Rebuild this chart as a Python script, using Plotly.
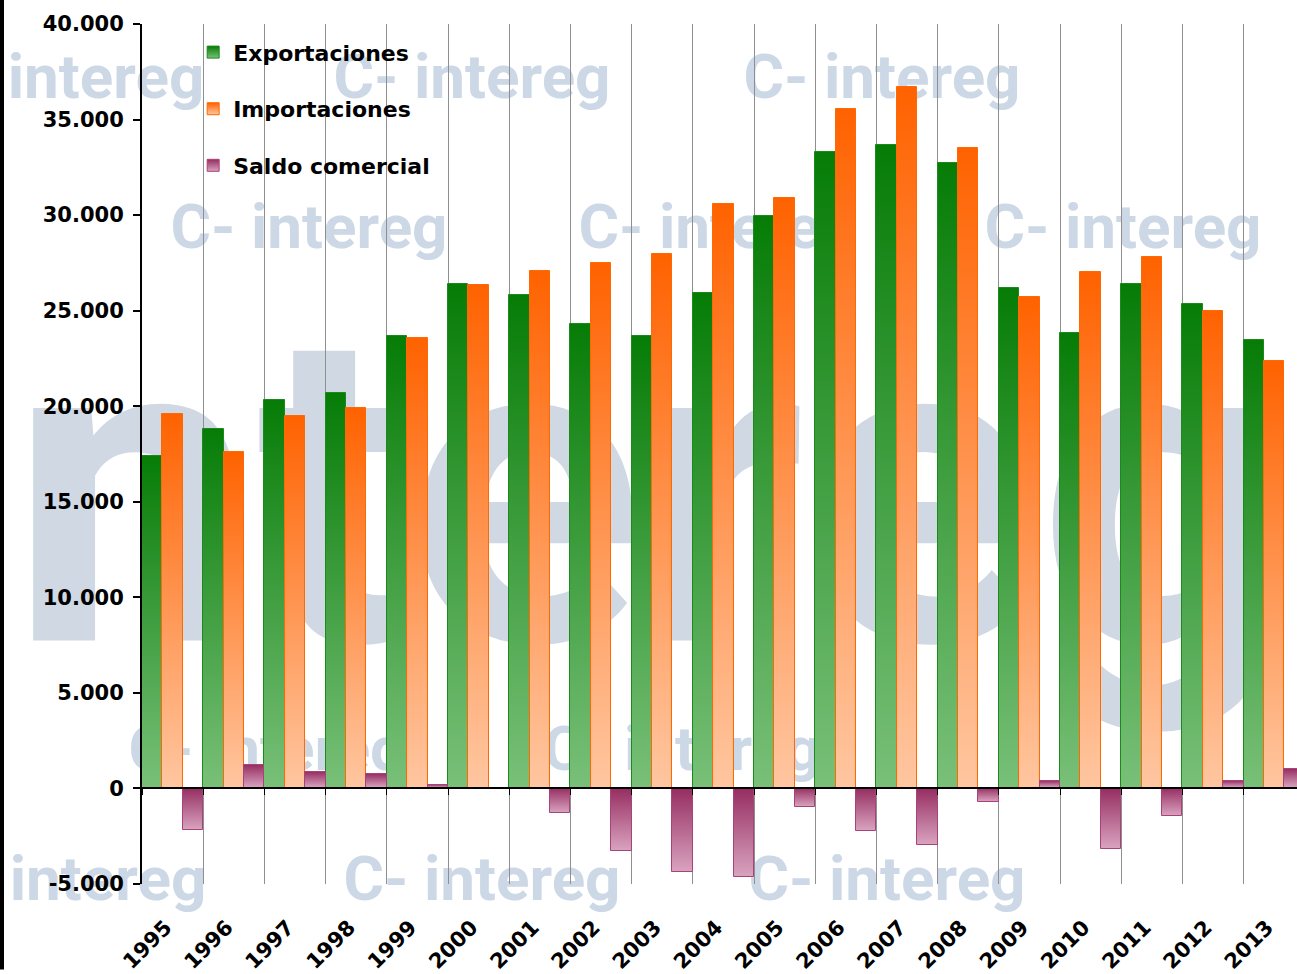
import plotly.graph_objects as go

years = ["1995", "1996", "1997", "1998", "1999", "2000", "2001", "2002", "2003", "2004",
         "2005", "2006", "2007", "2008", "2009", "2010", "2011", "2012", "2013"]
exportaciones = [17410, 18820, 20310, 20680, 23680, 26400, 25820, 24320, 23680, 25920,
                 29960, 33310, 33680, 32740, 26210, 23850, 26380, 25340, 23490]
importaciones = [19580, 17600, 19480, 19930, 23590, 26320, 27050, 27500, 27960, 30590,
                 30890, 35560, 36680, 33490, 25720, 27040, 27790, 24970, 22350]
saldo = [-2160, 1250, 870, 770, 200, 0, -1310, -3260, -4390, -4610,
         -990, -2210, -2940, -720, 380, -3170, -1420, 390, 1030]
series_names = ["Exportaciones", "Importaciones", "Saldo comercial"]
y_tick_values = [-5000, 0, 5000, 10000, 15000, 20000, 25000, 30000, 35000, 40000]
y_tick_labels = ["-5.000", "0", "5.000", "10.000", "15.000", "20.000", "25.000",
                 "30.000", "35.000", "40.000"]

# background watermark: (text, centre x px, centre y px, font size)
watermarks = [
    ("ntereg", 650, 460, 440),
    ("intereg", 106, 73, 62),
    ("C- intereg", 472, 73, 62),
    ("C- intereg", 882, 73, 62),
    ("C- intereg", 309, 223, 62),
    ("C- intereg", 717, 223, 62),
    ("C- intereg", 1123, 223, 62),
    ("C- intereg", 267, 748, 62),
    ("C- intereg", 682, 748, 62),
    ("intereg", 108, 878, 62),
    ("C- intereg", 482, 878, 62),
    ("C- intereg", 887, 878, 62),
]

W, H = 1297, 974
ML, MR, MT, MB = 142, 0, 24, 86
plot_w = W - ML - MR
plot_h = H - MT - MB
cat_w = 61.2
x_span = plot_w / cat_w

font_family = "DejaVu Sans"
wm_family = "Roboto, Liberation Sans, sans-serif"


def px_to_paper(px, py):
    return (px - ML) / plot_w, (H - MB - py) / plot_h


fig = go.Figure()
styles = [
    dict(color="#2e8f2e", line=dict(color="#1a8a1a", width=1)),
    dict(color="#ff8c4a", line=dict(color="#ff6a00", width=1)),
    dict(color="#b5668f", line=dict(color="#a8437a", width=1)),
]
for i, (name, vals) in enumerate(zip(series_names, [exportaciones, importaciones, saldo])):
    fig.add_trace(go.Bar(
        x=years, y=vals, name=name, marker=styles[i],
        legendgroup=name, hoverinfo="x+y+name",
    ))

# helper trace for the zero-level axis (ticks at category boundaries)
fig.add_trace(go.Scatter(
    x=years, y=saldo, xaxis="x2", mode="markers", marker=dict(opacity=0),
    showlegend=False, hoverinfo="skip",
))

shapes = []
for text, cx, cy, size in watermarks:
    x0, y0 = px_to_paper(cx - 20, cy + 20)
    x1, y1 = px_to_paper(cx + 20, cy - 20)
    shapes.append(dict(
        type="rect", xref="paper", yref="paper", x0=x0, x1=x1, y0=y0, y1=y1,
        layer="below", line=dict(width=0), fillcolor="rgba(0,0,0,0)",
        label=dict(text=text, textposition="middle center",
                   font=dict(family=wm_family, size=size,
                             color="#cfd8e3" if size > 100 else "#cdd8e6",
                             weight="bold")),
    ))

fx, _ = px_to_paper(2, 0)
shapes.append(dict(
    type="line", xref="paper", yref="paper", x0=fx, x1=fx,
    y0=-MB / plot_h, y1=1 + MT / plot_h,
    line=dict(color="black", width=4),
))

fig.update_layout(
    width=W, height=H,
    margin=dict(l=ML, r=MR, t=MT, b=MB),
    paper_bgcolor="white", plot_bgcolor="rgba(0,0,0,0)",
    barmode="group", bargap=0, bargroupgap=0,
    font=dict(family=font_family, size=20, color="black", weight="bold"),
    showlegend=True,
    legend=dict(
        x=0.0443, y=0.9915, xanchor="left", yanchor="top",
        bgcolor="rgba(0,0,0,0)", borderwidth=0,
        traceorder="grouped", tracegroupgap=25,
        font=dict(family=font_family, size=22, color="black", weight="bold"),
    ),
    xaxis=dict(
        type="category", range=[-0.5, -0.5 + x_span],
        tickson="boundaries", showgrid=True, gridcolor="#8f8f8f", gridwidth=1,
        ticks="", showline=False, zeroline=False,
        tickangle=-45, ticklabelstandoff=26, ticklabelshift=-7,
        tickfont=dict(family=font_family, size=21, color="black", weight="bold"),
    ),
    xaxis2=dict(
        type="category", overlaying="x", matches="x", anchor="free",
        position=5000 / 45000, side="bottom",
        tickson="boundaries", ticks="outside", ticklen=6, tickwidth=1, tickcolor="black",
        showticklabels=False, showgrid=False, showline=True,
        linecolor="black", linewidth=2, zeroline=False,
    ),
    yaxis=dict(
        range=[-5000, 40000], tickvals=y_tick_values, ticktext=y_tick_labels,
        showgrid=False, zeroline=True, zerolinecolor="black", zerolinewidth=2,
        showline=True, linecolor="black", linewidth=2,
        ticks="outside", ticklen=7, tickwidth=2, tickcolor="black",
        ticklabelstandoff=5,
        tickfont=dict(family=font_family, size=21, color="black", weight="bold"),
    ),
    shapes=shapes,
)

post = """
document.body.style.margin = '0';
document.body.style.padding = '0';
var gd = document.getElementById('{plot_id}');
var grads = [['#067c06', '#79c079'], ['#ff6200', '#ffc6a0'], ['#952c60', '#d9a3bf']];
function applyGrad() {
  var svg = gd.querySelector('svg.main-svg');
  if (!svg) return;
  var defs = svg.querySelector('defs');
  if (!defs) { defs = document.createElementNS('http://www.w3.org/2000/svg', 'defs'); svg.insertBefore(defs, svg.firstChild); }
  grads.forEach(function (g, i) {
    if (svg.querySelector('#barGrad' + i)) return;
    var lg = document.createElementNS('http://www.w3.org/2000/svg', 'linearGradient');
    lg.setAttribute('id', 'barGrad' + i);
    lg.setAttribute('x1', '0'); lg.setAttribute('y1', '0');
    lg.setAttribute('x2', '0'); lg.setAttribute('y2', '1');
    [[0, g[0]], [1, g[1]]].forEach(function (s) {
      var st = document.createElementNS('http://www.w3.org/2000/svg', 'stop');
      st.setAttribute('offset', s[0]); st.setAttribute('stop-color', s[1]);
      lg.appendChild(st);
    });
    defs.appendChild(lg);
  });
  gd.querySelectorAll('.barlayer .trace.bars').forEach(function (t, i) {
    t.querySelectorAll('path').forEach(function (p) { p.style.fill = 'url(#barGrad' + i + ')'; });
  });
  gd.querySelectorAll('.legend .traces').forEach(function (t, i) {
    t.querySelectorAll('.legendpoints path').forEach(function (p) { p.style.fill = 'url(#barGrad' + i + ')'; });
  });
}
applyGrad();
gd.on('plotly_afterplot', applyGrad);
"""

fig.write_html("out.html", post_script=post, config={"displayModeBar": False})
